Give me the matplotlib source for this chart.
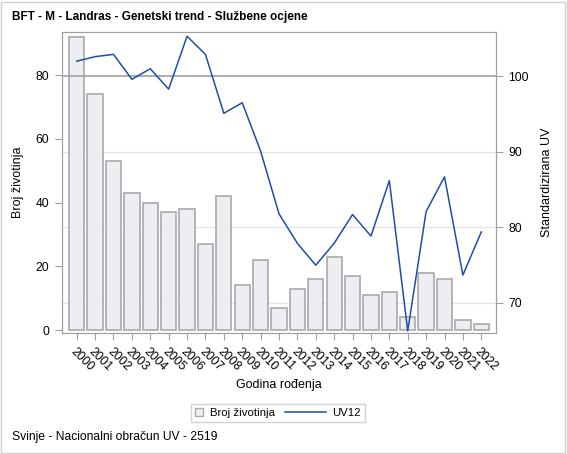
import matplotlib
matplotlib.use("Agg")
import matplotlib.pyplot as plt
from matplotlib.patches import Rectangle
from matplotlib.lines import Line2D
from matplotlib.legend_handler import HandlerLine2D, HandlerPatch

plt.rcParams['font.family'] = ['Liberation Sans', 'DejaVu Sans']

years = [str(y) for y in range(2000, 2023)]
counts = [92, 74, 53, 43, 40, 37, 38, 27, 42, 14, 22, 7, 13, 16, 23, 17, 11, 12, 4, 18, 16, 3, 2]
uv12 = [102.0, 102.6, 102.9, 99.6, 101.0, 98.3, 105.3, 102.9, 95.1, 96.5, 90.1, 81.8, 77.9, 75.0,
        77.9, 81.7, 78.85, 86.2, 66.3, 82.1, 86.7, 73.7, 79.4]
left_ticks = [0, 20, 40, 60, 80]
right_ticks = [70, 80, 90, 100]

W, H = 567, 454
AX_L, AX_R, AX_T, AX_B = 62, 496, 32, 333
fig = plt.figure(figsize=(W / 100, H / 100), dpi=100)
fig.patches.append(Rectangle((1 / W, 1 / H), 1 - 3 / W, 1 - 3 / H, transform=fig.transFigure,
                             fill=False, edgecolor='#d0d0d0', linewidth=1))

ax = fig.add_axes([AX_L / W, 1 - AX_B / H, (AX_R - AX_L) / W, (AX_B - AX_T) / H])
ax2 = ax.twinx()
ax.set_zorder(1)
ax2.set_zorder(2)
ax2.patch.set_visible(False)

x = list(range(len(years)))
ax.bar(x, counts, width=0.83, color='#eceef3', edgecolor='#a9a9a9', linewidth=1.2, zorder=2)
ax.set_xlim(-0.8, 22.8)
ax.set_ylim(-0.94, 93.5)
ax.set_yticks(left_ticks)
ax.set_xticks(x)
ax.set_xticklabels(years, rotation=-45, ha='left', va='top', rotation_mode='anchor', fontsize=8.7)

ax2.set_ylim(66.03, 105.86)
ax2.set_yticks(right_ticks)
for v in [70, 80, 90]:
    ax.axhline((v - 66.03) / (105.86 - 66.03) * (93.5 + 0.94) - 0.94, color='#e6e6e6', linewidth=1, zorder=1)
ax2.axhline(100, color='#a0a0a0', linewidth=1.2, zorder=1)
ax2.plot(x, uv12, color='#1f4ea6', linewidth=1.1, zorder=3)

for a in (ax, ax2):
    for s in a.spines.values():
        s.set_color('#a0a0a0')
    a.tick_params(colors='#a0a0a0', labelcolor='black', labelsize=8.7, length=5, pad=4)

ax.set_xlabel('Godina rođenja', fontsize=9)
ax.set_ylabel('Broj životinja', fontsize=9)
ax2.set_ylabel('Standardizirana UV', fontsize=9)
pw, ph = AX_R - AX_L, AX_B - AX_T
ax.xaxis.set_label_coords((279 - AX_L) / pw, (AX_B - 385) / ph)
ax.xaxis.label.set_va('center')
ax.yaxis.set_label_coords((18 - AX_L) / pw, (AX_B - 182) / ph)
ax.yaxis.label.set_va('center')
ax2.yaxis.set_label_coords((547 - AX_L) / pw, (AX_B - 182) / ph)
ax2.yaxis.label.set_va('center')

fig.text(12 / W, 1 - 17 / H, 'BFT - M - Landras - Genetski trend - Službene ocjene',
         fontsize=8.5, fontweight='bold', va='center', ha='left')
fig.text(12 / W, 1 - 437 / H, 'Svinje - Nacionalni obračun UV - 2519', fontsize=8.7, va='center', ha='left')


class LongLine(HandlerLine2D):
    def get_xdata(self, legend, xdescent, ydescent, width, height, fontsize):
        xd = [-xdescent - 24, width - xdescent]
        return xd, xd


def square(legend, orig_handle, xdescent, ydescent, width, height, fontsize):
    s = 6.0
    return Rectangle((-xdescent, -ydescent + (height - s) / 2), s, s)


handles = [Rectangle((0, 0), 1, 1, facecolor='#eceef3', edgecolor='#a9a9a9'),
           Line2D([0], [0], color='#1f4ea6', linewidth=1.1)]
leg = fig.legend(handles, ['Broj životinja', 'UV12'], loc='center', bbox_to_anchor=(278 / W, 1 - 413 / H),
                 ncol=2, fontsize=8.2, frameon=True, fancybox=False, edgecolor='#c8c8c8',
                 handlelength=0.72, handleheight=0.8, columnspacing=3.8, borderpad=0.35, handletextpad=0.55,
                 handler_map={Rectangle: HandlerPatch(patch_func=square), Line2D: LongLine()})
leg.get_frame().set_linewidth(1)

fig.savefig('out.png', dpi=100)
